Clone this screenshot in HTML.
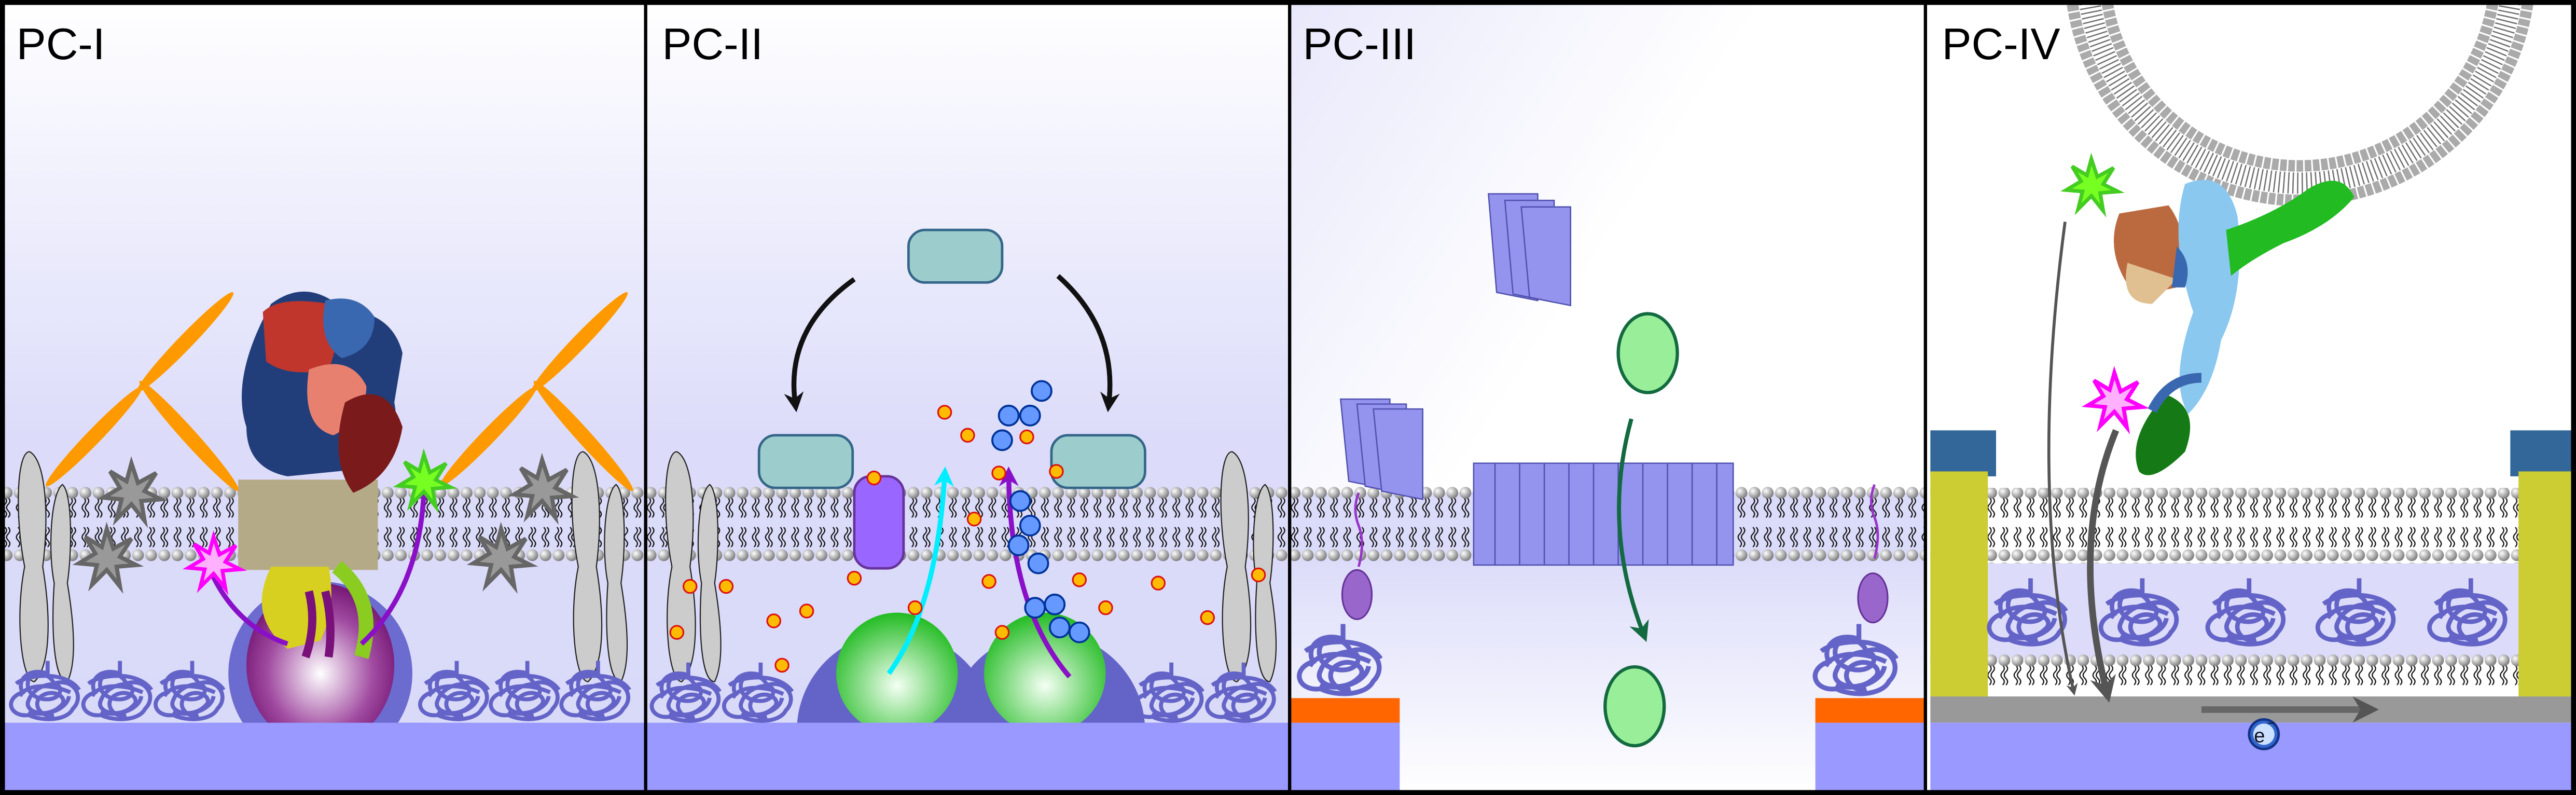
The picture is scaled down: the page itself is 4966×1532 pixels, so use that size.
<!DOCTYPE html>
<html><head><meta charset="utf-8"><style>
html,body{margin:0;padding:0;background:#fff}
svg{display:block}
text{font-family:"Liberation Sans",sans-serif}
</style></head><body>
<svg width="4966" height="1532" viewBox="0 0 1568 484" preserveAspectRatio="none" xmlns="http://www.w3.org/2000/svg">
<defs>
<linearGradient id="bg" x1="0" y1="0" x2="0" y2="1">
<stop offset="0" stop-color="#ffffff"/><stop offset="0.55" stop-color="#dcdcfa"/><stop offset="1" stop-color="#d8d8f8"/></linearGradient>
<linearGradient id="bg3" x1="0" y1="0" x2="1" y2="0.5">
<stop offset="0" stop-color="#e8e8fb"/><stop offset="0.6" stop-color="#ffffff"/><stop offset="1" stop-color="#ffffff"/></linearGradient>
<linearGradient id="bg3b" x1="0" y1="0" x2="0" y2="1">
<stop offset="0" stop-color="#dcdcfa"/><stop offset="1" stop-color="#ffffff"/></linearGradient>
<radialGradient id="head" cx="0.35" cy="0.35" r="0.7"><stop offset="0" stop-color="#fff"/><stop offset="1" stop-color="#777"/></radialGradient>
<radialGradient id="gs" cx="0.5" cy="0.6" r="0.6"><stop offset="0" stop-color="#f4fff4"/><stop offset="1" stop-color="#22bb22"/></radialGradient>
<radialGradient id="ps" cx="0.5" cy="0.55" r="0.6"><stop offset="0" stop-color="#fff"/><stop offset="0.6" stop-color="#a04aa0"/><stop offset="1" stop-color="#6a0a6a"/></radialGradient>
<pattern id="bil" x="0" y="296" width="8" height="46" patternUnits="userSpaceOnUse">
<path d="M3 7 q2 2 0 4 q-2 2 0 4 q2 2 0 4 M5 7 q2 2 0 4 q-2 2 0 4 q2 2 0 4 M3 25 q2 2 0 4 q-2 2 0 4 q2 2 0 4 M5 25 q2 2 0 4 q-2 2 0 4 q2 2 0 4" fill="none" stroke="#111" stroke-width="0.7"/>
<circle cx="4" cy="4" r="3.6" fill="url(#head)"/><circle cx="4" cy="42" r="3.6" fill="url(#head)"/>
</pattern>
<pattern id="mono" x="0" y="398" width="8" height="26" patternUnits="userSpaceOnUse">
<path d="M3 7 q2 2 0 4 q-2 2 0 4 q2 2 0 4 M5 7 q2 2 0 4 q-2 2 0 4 q2 2 0 4" fill="none" stroke="#111" stroke-width="0.7"/>
<circle cx="4" cy="4" r="3.6" fill="url(#head)"/></pattern>
<symbol id="coil" viewBox="0 0 60 50" overflow="visible">
<g fill="none" stroke="#6464c8" stroke-width="3.2">
<path d="M30 2 v10 c-15 -5 -25 5 -20 15 c-15 5 -10 20 5 18 c10 5 30 5 35 -5 c10 -10 0 -25 -15 -20 c-5 -12 -25 -10 -20 5 c5 10 25 10 25 0 c0 -8 -20 -5 -25 8 c-5 10 15 15 25 5 c8 -6 -5 -15 -15 -8 c-8 6 0 18 10 15 M8 30 c5 -10 25 -10 40 -3 M15 42 c10 5 30 0 32 -12 M5 20 c10 -8 40 -10 50 5"/>
</g></symbol>
<marker id="ab" viewBox="0 0 10 10" refX="5" refY="5" markerWidth="4" markerHeight="5" orient="auto"><path d="M0 0 L10 5 L0 10 L3 5z" fill="#111"/></marker>
<marker id="ap" viewBox="0 0 10 10" refX="5" refY="5" markerWidth="4" markerHeight="5" orient="auto"><path d="M0 0 L10 5 L0 10 L3 5z" fill="#8a10c8"/></marker>
<marker id="ac" viewBox="0 0 10 10" refX="5" refY="5" markerWidth="4" markerHeight="5" orient="auto"><path d="M0 0 L10 5 L0 10 L3 5z" fill="#00eeff"/></marker>
<marker id="ag" viewBox="0 0 10 10" refX="5" refY="5" markerWidth="5" markerHeight="5" orient="auto"><path d="M0 0 L10 5 L0 10 L3 5z" fill="#146a40"/></marker>
<marker id="ay" viewBox="0 0 10 10" refX="5" refY="5" markerWidth="4" markerHeight="6" orient="auto"><path d="M0 0 L10 5 L0 10 L3 5z" fill="#555"/></marker>
<symbol id="gray2" viewBox="0 0 40 140" overflow="visible">
<path d="M10 0 c10 5 12 40 8 70 c5 30 5 60 -5 70 c-8 0 -12 -40 -6 -70 c-6 -30 -5 -70 3 -70z" fill="#ccc" stroke="#222" stroke-width="0.7"/>
<path d="M30 20 c6 5 6 40 3 60 c5 30 5 50 0 60 c-8 0 -10 -30 -8 -60 c-4 -20 -2 -55 5 -60z" fill="#ccc" stroke="#222" stroke-width="0.7"/>
</symbol>
<symbol id="star" viewBox="-20 -20 40 40" overflow="visible">
<path d="M0 -18 L4 -6 L15 -12 L8 -1 L18 4 L6 5 L8 17 L0 7 L-9 16 L-6 4 L-17 3 L-7 -3 L-13 -13 L-3 -7z" stroke-width="2.5"/>
</symbol>
</defs>

<rect x="0" y="0" width="1568" height="484" fill="url(#bg)"/>
<rect x="785" y="0" width="387" height="300" fill="url(#bg3)"/>
<rect x="785" y="340" width="387" height="144" fill="url(#bg3b)"/>
<rect x="1172" y="0" width="396" height="484" fill="#fff"/>

<rect x="3" y="296" width="1169" height="46" fill="url(#bil)"/>
<rect x="3" y="440" width="782" height="42" fill="#9999ff"/>
<rect x="785" y="440" width="67" height="42" fill="#9999ff"/>
<rect x="785" y="425" width="67" height="15" fill="#ff6600"/>
<rect x="1105" y="440" width="67" height="42" fill="#9999ff"/>
<rect x="1105" y="425" width="67" height="15" fill="#ff6600"/>

<!-- PANEL I -->
<g>
<g transform="translate(28,296) rotate(-46)"><ellipse cx="42" cy="0" rx="42" ry="4.5" fill="#f90"/><ellipse cx="122" cy="0" rx="42" ry="4.5" fill="#f90"/></g>
<g transform="translate(85,232) rotate(48)"><ellipse cx="45" cy="0" rx="45" ry="4.5" fill="#f90"/></g>
<g transform="translate(268,296) rotate(-46)"><ellipse cx="42" cy="0" rx="42" ry="4.5" fill="#f90"/><ellipse cx="122" cy="0" rx="42" ry="4.5" fill="#f90"/></g>
<g transform="translate(325,232) rotate(48)"><ellipse cx="45" cy="0" rx="45" ry="4.5" fill="#f90"/></g>
<use href="#gray2" x="8" y="275" width="40" height="140"/>
<use href="#gray2" x="345" y="275" width="40" height="140"/>
<use href="#star" x="60" y="280" width="40" height="40" fill="#999" stroke="#666"/>
<use href="#star" x="45" y="320" width="40" height="40" fill="#999" stroke="#666"/>
<use href="#star" x="310" y="278" width="40" height="40" fill="#999" stroke="#666"/>
<use href="#star" x="285" y="320" width="40" height="40" fill="#999" stroke="#666"/>
<rect x="145" y="292" width="85" height="55" fill="#b5aa88"/>
<path d="M165 185 q20 -15 40 0 l15 5 q20 5 25 25 l-5 30 q5 25 -15 40 l-50 5 q-25 -5 -25 -30 q-10 -30 15 -75z" fill="#223e7a"/>
<path d="M160 190 q10 -10 40 -5 q10 15 0 40 q-25 5 -38 -5z" fill="#c0362c"/>
<path d="M198 183 q20 -5 30 10 q0 20 -20 25 q-15 -10 -10 -35z" fill="#3a68b0"/>
<path d="M188 225 q25 -10 35 10 q0 20 -20 30 q-20 -5 -15 -40z" fill="#e88070"/>
<path d="M210 245 q25 -15 35 15 q-5 30 -30 40 q-15 -20 -5 -55z" fill="#7a1a1a"/>
<circle cx="195" cy="410" r="56" fill="#6b6bd0"/>
<ellipse cx="195" cy="405" rx="45" ry="50" fill="url(#ps)"/>
<path d="M165 345 q-15 30 10 50 l20 -5 q10 -20 5 -45z" fill="#d8d020"/>
<path d="M205 345 q25 20 15 55" stroke="#8acc20" stroke-width="9" fill="none"/>
<path d="M188 360 q5 20 -2 40 M198 360 q5 20 2 40" stroke="#7a107a" stroke-width="5" fill="none"/>
<rect x="130" y="440" width="130" height="42" fill="#9999ff"/>
<path d="M175 392 Q140 380 125 340" stroke="#8a10c8" stroke-width="3" fill="none" marker-end="url(#ap)"/>
<path d="M220 392 Q255 360 258 300" stroke="#8a10c8" stroke-width="3" fill="none" marker-end="url(#ap)"/>
<use href="#star" x="112" y="325" width="36" height="36" fill="#ffb0ff" stroke="#f0f"/>
<use href="#star" x="240" y="275" width="36" height="36" fill="#7f2" stroke="#4c2"/>
</g>

<!-- PANEL II -->
<g>
<use href="#gray2" x="402" y="275" width="40" height="140"/>
<use href="#gray2" x="740" y="275" width="40" height="140"/>
<circle cx="545" cy="445" r="60" fill="#6464c8"/><circle cx="637" cy="445" r="60" fill="#6464c8"/>
<circle cx="546" cy="410" r="37" fill="url(#gs)"/><circle cx="636" cy="410" r="37" fill="url(#gs)"/>
<rect x="470" y="440" width="240" height="42" fill="#9999ff"/>
<rect x="553" y="140" width="57" height="32" rx="10" fill="#9ccccc" stroke="#336688" stroke-width="1.5"/>
<rect x="462" y="265" width="57" height="32" rx="10" fill="#9ccccc" stroke="#336688" stroke-width="1.5"/>
<rect x="640" y="265" width="57" height="32" rx="10" fill="#9ccccc" stroke="#336688" stroke-width="1.5"/>
<path d="M520 170 Q478 200 484 245" stroke="#111" stroke-width="3" fill="none" marker-end="url(#ab)"/>
<path d="M644 168 Q680 200 675 245" stroke="#111" stroke-width="3" fill="none" marker-end="url(#ab)"/>
<rect x="520" y="290" width="30" height="56" rx="10" fill="#9966ff" stroke="#663399" stroke-width="1.5"/>
<path d="M541 410 Q570 370 575 290" stroke="#00eeff" stroke-width="3" fill="none" marker-end="url(#ac)"/>
<path d="M651 412 Q615 370 614 290" stroke="#8a10c8" stroke-width="3" fill="none" marker-end="url(#ap)"/>
<g fill="#6699ff" stroke="#003399" stroke-width="1.2">
<circle cx="634" cy="238" r="6"/><circle cx="627" cy="253" r="6"/><circle cx="614" cy="253" r="6"/><circle cx="610" cy="268" r="6"/>
<circle cx="621" cy="305" r="6"/><circle cx="627" cy="320" r="6"/><circle cx="620" cy="332" r="6"/><circle cx="632" cy="343" r="6"/>
<circle cx="630" cy="370" r="6"/><circle cx="642" cy="368" r="6"/><circle cx="645" cy="382" r="6"/><circle cx="657" cy="385" r="6"/></g>
<g fill="#ffbb00" stroke="#dd1111" stroke-width="1">
<circle cx="575" cy="251" r="4"/><circle cx="589" cy="265" r="4"/><circle cx="608" cy="288" r="4"/><circle cx="625" cy="266" r="4"/><circle cx="643" cy="287" r="4"/><circle cx="532" cy="291" r="4"/>
<circle cx="593" cy="316" r="4"/><circle cx="420" cy="357" r="4"/><circle cx="442" cy="357" r="4"/><circle cx="491" cy="372" r="4"/><circle cx="557" cy="370" r="4"/><circle cx="520" cy="352" r="4"/>
<circle cx="602" cy="354" r="4"/><circle cx="657" cy="353" r="4"/><circle cx="705" cy="355" r="4"/><circle cx="735" cy="376" r="4"/><circle cx="412" cy="385" r="4"/><circle cx="471" cy="378" r="4"/>
<circle cx="610" cy="385" r="4"/><circle cx="673" cy="370" r="4"/><circle cx="766" cy="350" r="4"/><circle cx="476" cy="405" r="4"/></g>
</g>

<!-- PANEL III -->
<g fill="#9494ee" stroke="#5050b0" stroke-width="0.8">
<path d="M897 282 h158 v62 h-158z"/>
<path d="M906 118 h30 v65 l-25 -5z"/><path d="M916 122 h30 v62 l-25 -5z"/><path d="M926 126 h30 v60 l-25 -5z"/>
<path d="M816 243 h30 v55 l-25 -5z"/><path d="M826 246 h30 v55 l-25 -5z"/><path d="M836 249 h30 v55 l-25 -5z"/>
</g>
<g fill="none" stroke="#5050b0" stroke-width="0.8">
<path d="M910 282 v62 M925 282 v62 M940 282 v62 M955 282 v62 M970 282 v62 M985 282 v62 M1000 282 v62 M1015 282 v62 M1030 282 v62 M1045 282 v62"/></g>
<ellipse cx="1003" cy="215" rx="18" ry="24" fill="#99ee99" stroke="#146a40" stroke-width="2"/>
<ellipse cx="995" cy="430" rx="18" ry="24" fill="#99ee99" stroke="#146a40" stroke-width="2"/>
<path d="M993 255 Q975 320 1000 385" stroke="#146a40" stroke-width="2.5" fill="none" marker-end="url(#ag)"/>
<path d="M827 300 q-4 10 0 20 q4 10 0 25" stroke="#9933cc" stroke-width="1.5" fill="none"/>
<path d="M1141 295 q-4 10 0 20 q4 10 0 25" stroke="#9933cc" stroke-width="1.5" fill="none"/>
<ellipse cx="826" cy="362" rx="9" ry="15" fill="#9966cc" stroke="#663399"/>
<ellipse cx="1140" cy="364" rx="9" ry="15" fill="#9966cc" stroke="#663399"/>

<!-- coils -->
<g>
<use href="#coil" x="6" y="398" width="46" height="44"/><use href="#coil" x="50" y="398" width="46" height="44"/><use href="#coil" x="94" y="398" width="46" height="44"/>
<use href="#coil" x="255" y="398" width="46" height="44"/><use href="#coil" x="298" y="398" width="46" height="44"/><use href="#coil" x="341" y="398" width="46" height="44"/>
<use href="#coil" x="396" y="400" width="46" height="42"/><use href="#coil" x="440" y="400" width="46" height="42"/>
<use href="#coil" x="690" y="400" width="46" height="42"/><use href="#coil" x="734" y="400" width="46" height="42"/>
<use href="#coil" x="790" y="376" width="55" height="50"/><use href="#coil" x="1104" y="376" width="55" height="50"/>
</g>

<!-- PANEL IV -->
<g>
<circle cx="1400" cy="-18" r="140" fill="none" stroke="#aaa" stroke-width="7" stroke-dasharray="4 1"/>
<circle cx="1400" cy="-18" r="119" fill="none" stroke="#aaa" stroke-width="7" stroke-dasharray="4 1"/>
<circle cx="1400" cy="-18" r="129.5" fill="none" stroke="#333" stroke-width="13" stroke-dasharray="0.8 2" opacity="0.7"/>
<rect x="1175" y="297" width="390" height="46" fill="url(#bil)"/>
<rect x="1175" y="343" width="390" height="58" fill="#dcdcfa"/>
<rect x="1175" y="398" width="390" height="26" fill="url(#mono)"/>
<rect x="1175" y="424" width="390" height="16" fill="#999"/>
<rect x="1175" y="440" width="390" height="42" fill="#9999ff"/>
<rect x="1175" y="262" width="40" height="28" fill="#336699"/>
<rect x="1528" y="262" width="37" height="28" fill="#336699"/>
<rect x="1175" y="287" width="35" height="137" fill="#cccc33"/>
<rect x="1533" y="287" width="32" height="137" fill="#cccc33"/>
<use href="#coil" x="1210" y="344" width="52" height="56"/><use href="#coil" x="1278" y="344" width="52" height="56"/>
<use href="#coil" x="1343" y="344" width="52" height="56"/><use href="#coil" x="1410" y="344" width="52" height="56"/><use href="#coil" x="1478" y="344" width="52" height="56"/>
<path d="M1290 130 q-10 25 10 50 l25 -5 q10 -30 -5 -50z" fill="#bb6a40"/>
<path d="M1295 160 q-5 25 15 25 l15 -15z" fill="#e0c090"/>
<path d="M1330 112 q25 -10 32 20 q5 45 -10 75 q-5 30 -20 45 q-12 -20 3 -62 q-15 -45 -5 -78z" fill="#8ac8f0"/>
<path d="M1325 150 q10 10 5 25 l-8 0z" fill="#3a68b0"/>
<path d="M1355 140 q30 -10 50 -25 q20 -12 28 5 q-15 18 -43 28 q-20 10 -32 20z" fill="#22bb22"/>
<path d="M1318 240 q22 8 12 35 q-20 20 -28 12 q-8 -20 16 -47z" fill="#157a15"/>
<path d="M1310 250 q10 -20 30 -20" stroke="#3a68b0" stroke-width="6" fill="none"/>
<use href="#star" x="1255" y="95" width="36" height="36" fill="#7f2" stroke="#4c2"/>
<use href="#star" x="1268" y="225" width="38" height="38" fill="#ffb0ff" stroke="#f0f"/>
<path d="M1257 135 Q1235 300 1262 420" stroke="#555" stroke-width="1.8" fill="none" marker-end="url(#ay)"/>
<path d="M1288 262 Q1260 330 1282 420" stroke="#555" stroke-width="4" fill="none" marker-end="url(#ay)"/>
<path d="M1340 432 H1440" stroke="#666" stroke-width="4" marker-end="url(#ay)"/>
<circle cx="1378" cy="447" r="9" fill="#3366cc" stroke="#113388" stroke-width="1.5"/>
<circle cx="1378" cy="447" r="6.5" fill="#cce0ff"/>
<text x="1372" y="452" font-size="12" fill="#112">e</text><text x="1380" y="443" font-size="8" fill="#112">−</text>
</g>

<rect x="1.5" y="1.5" width="1565" height="481" fill="none" stroke="#000" stroke-width="3"/>
<path d="M393 0 V484 M785 0 V484 M1172 0 V484" stroke="#000" stroke-width="2"/>
<g font-size="27" fill="#000">
<text x="10" y="36">PC-I</text><text x="403" y="36">PC-II</text><text x="793" y="36">PC-III</text><text x="1182" y="36">PC-IV</text></g>
</svg>
</body></html>
